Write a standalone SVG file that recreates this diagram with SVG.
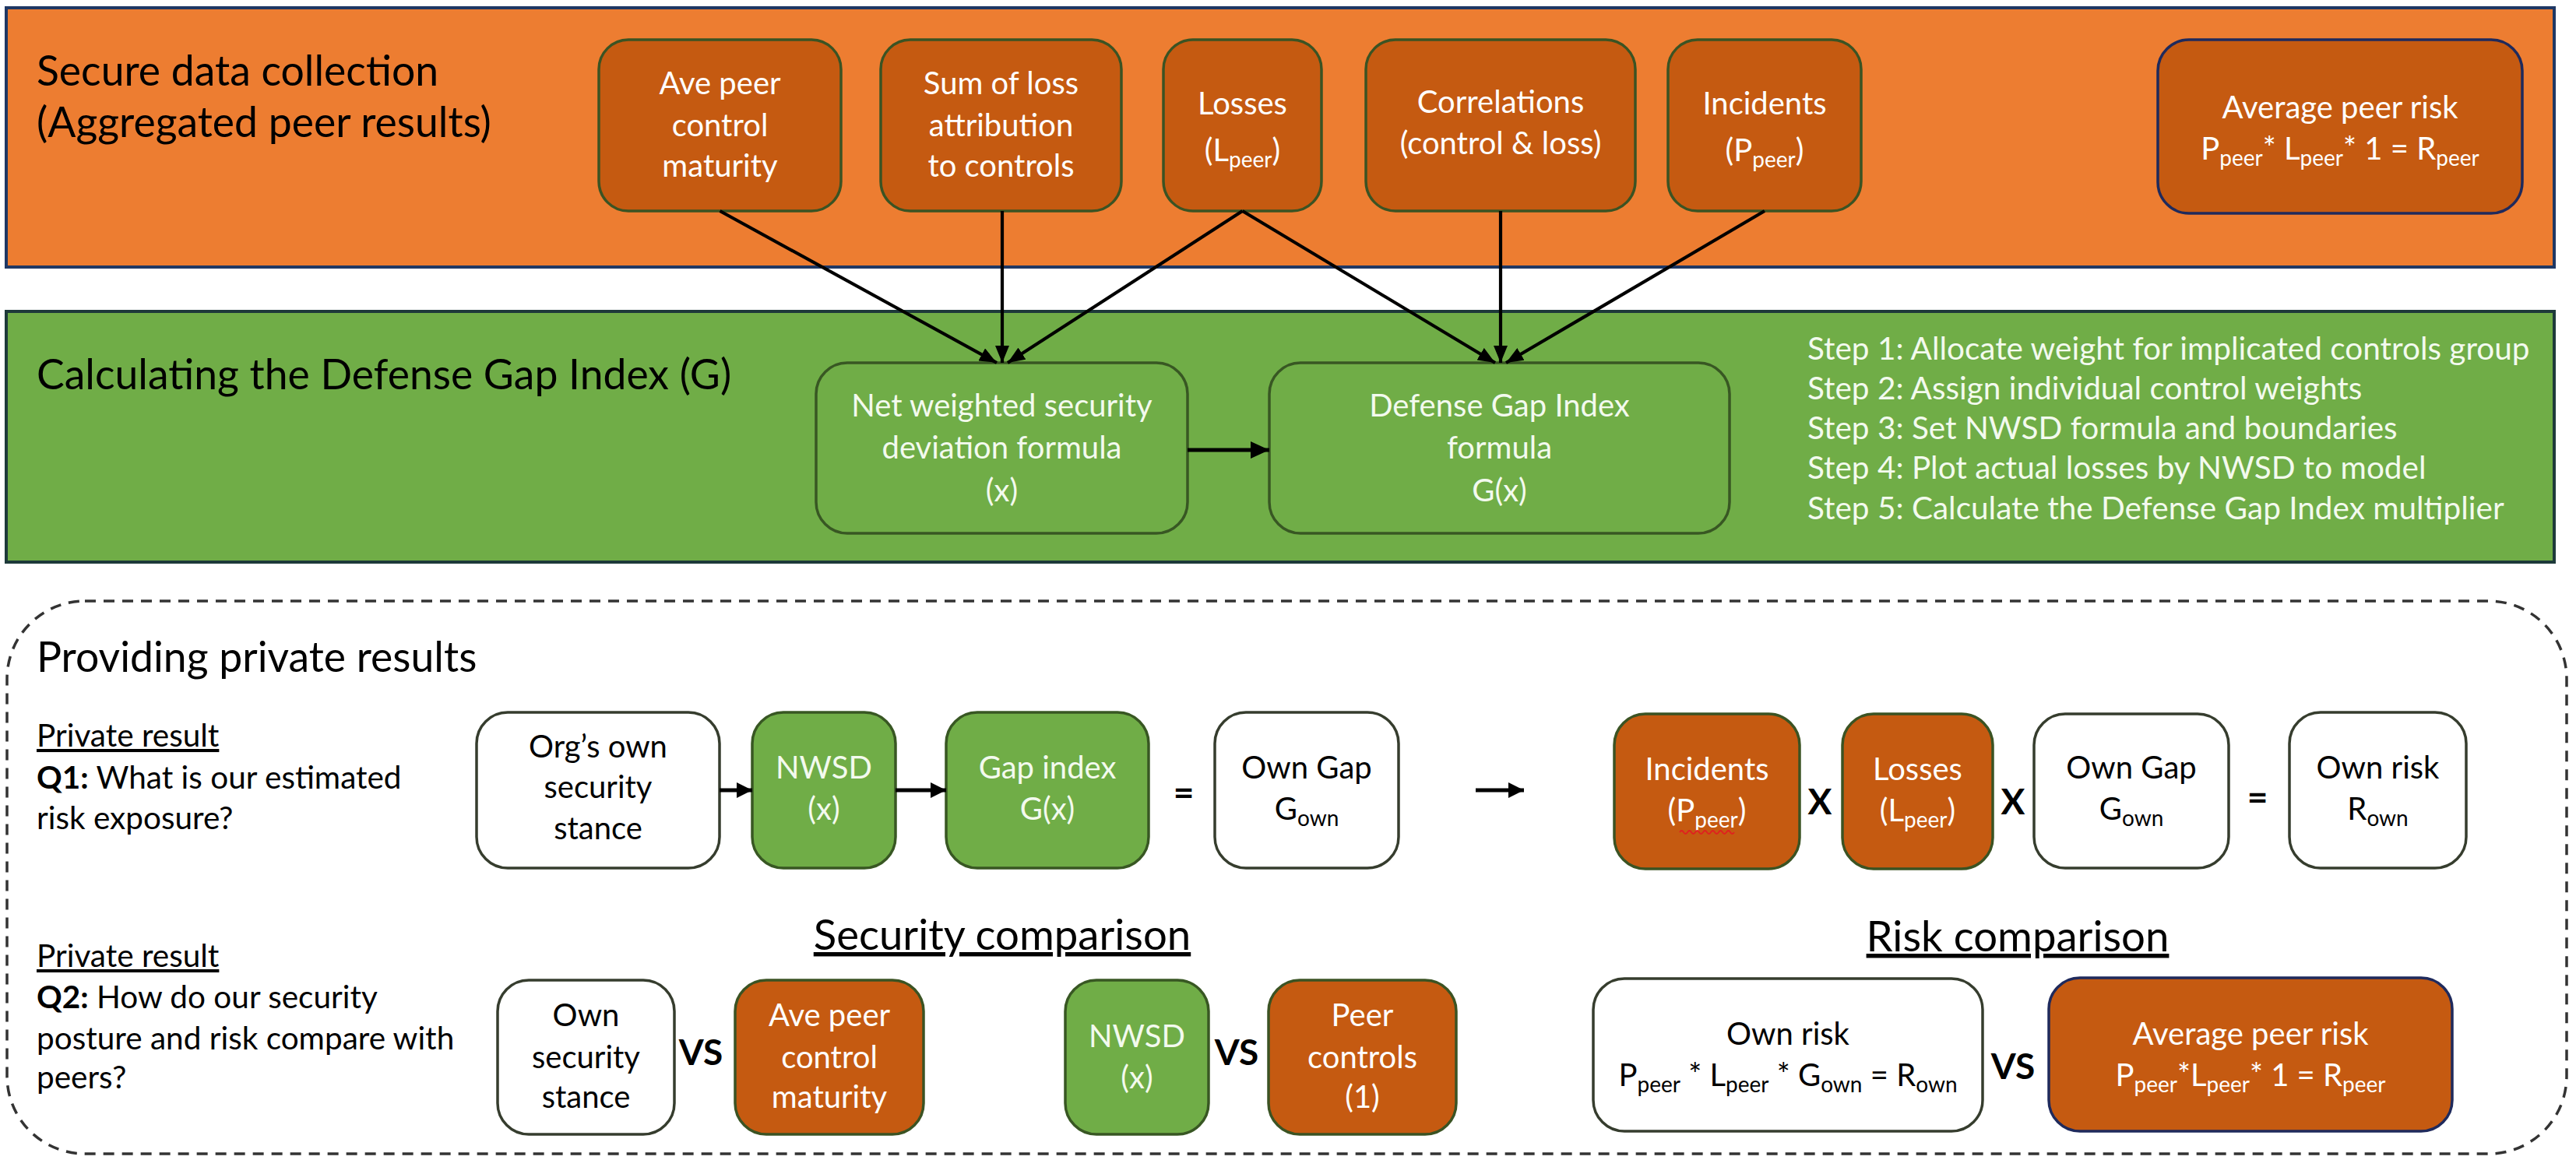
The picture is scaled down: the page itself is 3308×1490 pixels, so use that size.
<svg xmlns="http://www.w3.org/2000/svg" width="3308" height="1490" viewBox="0 0 3308 1490">
<defs>
<style>
text{font-family:Lato,'Liberation Sans',sans-serif}
.po{fill:#ED7D31;stroke:#1F3864;stroke-width:4}
.pg{fill:#70AD47;stroke:#1E3A3A;stroke-width:4}
.no{fill:#C55A11;stroke:#3B5323;stroke-width:3.5}
.nn{fill:#C55A11;stroke:#1F2A5C;stroke-width:3.5}
.ng{fill:#70AD47;stroke:#385723;stroke-width:3.5}
.nw{fill:#FFFFFF;stroke:#363D2E;stroke-width:3.5}
.tw{fill:#FFFFFF;font-size:40px;text-anchor:middle}
.tg{fill:#F3FAEE;font-size:40px;text-anchor:middle}
.tb{fill:#000000;font-size:40px;text-anchor:middle}
.title{fill:#000000;font-size:53.5px}
.lbl{fill:#000000;font-size:40.5px}
.step{fill:#F3FAEE;font-size:40.5px}
.op{fill:#000000;font-size:46px;font-weight:bold;text-anchor:middle}
.hd{fill:#000000;font-size:54.5px;text-anchor:middle;text-decoration:underline}
.sub{font-size:28px}
.c{fill:none;stroke:#000000;stroke-width:4.2}
.cb{fill:none;stroke:#000000;stroke-width:5}
</style>
<marker id="ah" markerWidth="22" markerHeight="18" refX="22" refY="9" orient="auto" markerUnits="userSpaceOnUse"><path d="M0,0 L22,9 L0,18 z" fill="#000"/></marker>
<marker id="ahb" markerWidth="24" markerHeight="22" refX="24" refY="11" orient="auto" markerUnits="userSpaceOnUse"><path d="M0,0 L24,11 L0,22 z" fill="#000"/></marker>
<marker id="ahs" markerWidth="20" markerHeight="20" refX="20" refY="10" orient="auto" markerUnits="userSpaceOnUse"><path d="M0,0 L20,10 L0,20 z" fill="#000"/></marker>
</defs>

<!-- Section panels -->
<g id="panel-collection">
<rect class="po" x="8" y="10" width="3272" height="333"/>
<text class="title" x="47" y="110">Secure data collection</text>
<text class="title" x="47" y="176">(Aggregated peer results)</text>
</g>
<g id="panel-gap">
<rect class="pg" x="8" y="400" width="3272" height="322"/>
<text class="title" x="47" y="500">Calculating the Defense Gap Index (G)</text>
<text class="step" x="2321" y="462">Step 1: Allocate weight for implicated controls group</text>
<text class="step" x="2321" y="513">Step 2: Assign individual control weights</text>
<text class="step" x="2321" y="564">Step 3: Set NWSD formula and boundaries</text>
<text class="step" x="2321" y="615">Step 4: Plot actual losses by NWSD to model</text>
<text class="step" x="2321" y="667">Step 5: Calculate the Defense Gap Index multiplier</text>
</g>
<g id="panel-private">
<rect x="9" y="772" width="3287" height="710" rx="100" ry="100" fill="none" stroke="#333333" stroke-width="3.5" stroke-dasharray="14 10"/>
<text class="title" x="47" y="863">Providing private results</text>
<text class="lbl" x="47" y="959" text-decoration="underline">Private result</text>
<text class="lbl" x="47" y="1013"><tspan font-weight="bold">Q1:</tspan> What is our estimated</text>
<text class="lbl" x="47" y="1065">risk exposure?</text>
<text class="lbl" x="47" y="1242" text-decoration="underline">Private result</text>
<text class="lbl" x="47" y="1295"><tspan font-weight="bold">Q2:</tspan> How do our security</text>
<text class="lbl" x="47" y="1348">posture and risk compare with</text>
<text class="lbl" x="47" y="1398">peers?</text>
<text class="hd" x="1287" y="1220">Security comparison</text>
<text class="hd" x="2591" y="1222">Risk comparison</text>
</g>

<!-- Top row nodes -->
<g id="n-ave-peer">
<rect class="no" x="769" y="51" width="311" height="220" rx="38"/>
<text class="tw" x="924.5" y="121">Ave peer</text>
<text class="tw" x="924.5" y="175">control</text>
<text class="tw" x="924.5" y="227">maturity</text>
</g>
<g id="n-sum-loss">
<rect class="no" x="1131" y="51" width="309" height="220" rx="38"/>
<text class="tw" x="1285.5" y="121">Sum of loss</text>
<text class="tw" x="1285.5" y="175">attribution</text>
<text class="tw" x="1285.5" y="227">to controls</text>
</g>
<g id="n-losses">
<rect class="no" x="1494" y="51" width="203" height="220" rx="38"/>
<text class="tw" x="1595.5" y="147">Losses</text>
<text class="tw" x="1595.5" y="207">(L<tspan class="sub" dy="8">peer</tspan><tspan dy="-8">)</tspan></text>
</g>
<g id="n-correlations">
<rect class="no" x="1754" y="51" width="346" height="220" rx="38"/>
<text class="tw" x="1927" y="145">Correlations</text>
<text class="tw" x="1927" y="198">(control &amp; loss)</text>
</g>
<g id="n-incidents">
<rect class="no" x="2142" y="51" width="248" height="220" rx="38"/>
<text class="tw" x="2266" y="147">Incidents</text>
<text class="tw" x="2266" y="207">(P<tspan class="sub" dy="8">peer</tspan><tspan dy="-8">)</tspan></text>
</g>
<g id="n-avg-peer-risk">
<rect class="nn" x="2771" y="51" width="468" height="223" rx="40"/>
<text class="tw" x="3005" y="152">Average peer risk</text>
<text class="tw" x="3005" y="205">P<tspan class="sub" dy="8">peer</tspan><tspan dy="-8">* L</tspan><tspan class="sub" dy="8">peer</tspan><tspan dy="-8">* 1 = R</tspan><tspan class="sub" dy="8">peer</tspan></text>
</g>

<!-- Gap index nodes -->
<g id="n-nwsd-formula">
<rect class="ng" x="1048" y="466" width="477" height="219" rx="40"/>
<text class="tg" x="1286.5" y="535">Net weighted security</text>
<text class="tg" x="1286.5" y="589">deviation formula</text>
<text class="tg" x="1286.5" y="644">(x)</text>
</g>
<g id="n-dgi-formula">
<rect class="ng" x="1630" y="466" width="591" height="219" rx="40"/>
<text class="tg" x="1925.5" y="535">Defense Gap Index</text>
<text class="tg" x="1925.5" y="589">formula</text>
<text class="tg" x="1925.5" y="644">G(x)</text>
</g>

<!-- Q1 row -->
<g id="q1-org-stance">
<rect class="nw" x="612" y="915" width="312" height="200" rx="40"/>
<text class="tb" x="768" y="973">Org’s own</text>
<text class="tb" x="768" y="1025">security</text>
<text class="tb" x="768" y="1078">stance</text>
</g>
<g id="q1-nwsd">
<rect class="ng" x="966" y="915" width="184" height="200" rx="40"/>
<text class="tg" x="1058" y="1000">NWSD</text>
<text class="tg" x="1058" y="1053">(x)</text>
</g>
<g id="q1-gap-index">
<rect class="ng" x="1215" y="915" width="260" height="200" rx="40"/>
<text class="tg" x="1345" y="1000">Gap index</text>
<text class="tg" x="1345" y="1053">G(x)</text>
</g>
<g id="q1-own-gap-a">
<rect class="nw" x="1560" y="915" width="236" height="200" rx="40"/>
<text class="tb" x="1678" y="1000">Own Gap</text>
<text class="tb" x="1678" y="1053">G<tspan class="sub" dy="8">own</tspan></text>
</g>
<g id="q1-incidents">
<rect class="no" x="2073" y="917" width="238" height="199" rx="40"/>
<text class="tw" x="2192" y="1002">Incidents</text>
<text class="tw" x="2192" y="1055">(P<tspan class="sub" dy="8">peer</tspan><tspan dy="-8">)</tspan></text>
<path d="M2157,1069 q2.5,-4 5,0 t5,0 t5,0 t5,0 t5,0 t5,0 t5,0 t5,0 t5,0 t5,0 t5,0 t5,0 t5,0 t5,0" fill="none" stroke="#E02020" stroke-width="1.8"/>
</g>
<g id="q1-losses">
<rect class="no" x="2366" y="917" width="193" height="199" rx="40"/>
<text class="tw" x="2462.5" y="1002">Losses</text>
<text class="tw" x="2462.5" y="1055">(L<tspan class="sub" dy="8">peer</tspan><tspan dy="-8">)</tspan></text>
</g>
<g id="q1-own-gap-b">
<rect class="nw" x="2612" y="917" width="250" height="198" rx="40"/>
<text class="tb" x="2737" y="1000">Own Gap</text>
<text class="tb" x="2737" y="1053">G<tspan class="sub" dy="8">own</tspan></text>
</g>
<g id="q1-own-risk">
<rect class="nw" x="2940" y="915" width="227" height="200" rx="40"/>
<text class="tb" x="3053.5" y="1000">Own risk</text>
<text class="tb" x="3053.5" y="1053">R<tspan class="sub" dy="8">own</tspan></text>
</g>
<g id="q1-operators">
<text class="op" x="1520" y="1034">=</text>
<text class="op" x="2337" y="1046">X</text>
<text class="op" x="2585" y="1046">X</text>
<text class="op" x="2899" y="1040">=</text>
</g>

<!-- Q2 row -->
<g id="q2-own-stance">
<rect class="nw" x="639" y="1259" width="227" height="198" rx="40"/>
<text class="tb" x="752.5" y="1318">Own</text>
<text class="tb" x="752.5" y="1372">security</text>
<text class="tb" x="752.5" y="1423">stance</text>
</g>
<g id="q2-ave-peer">
<rect class="no" x="944" y="1259" width="242" height="198" rx="40"/>
<text class="tw" x="1065" y="1318">Ave peer</text>
<text class="tw" x="1065" y="1372">control</text>
<text class="tw" x="1065" y="1423">maturity</text>
</g>
<g id="q2-nwsd">
<rect class="ng" x="1368" y="1259" width="184" height="198" rx="40"/>
<text class="tg" x="1460" y="1345">NWSD</text>
<text class="tg" x="1460" y="1398">(x)</text>
</g>
<g id="q2-peer-controls">
<rect class="no" x="1629" y="1259" width="241" height="198" rx="40"/>
<text class="tw" x="1749.5" y="1318">Peer</text>
<text class="tw" x="1749.5" y="1372">controls</text>
<text class="tw" x="1749.5" y="1423">(1)</text>
</g>
<g id="q2-own-risk">
<rect class="nw" x="2046" y="1257" width="500" height="196" rx="40"/>
<text class="tb" x="2296" y="1342">Own risk</text>
<text class="tb" x="2296" y="1395">P<tspan class="sub" dy="8">peer</tspan><tspan dy="-8"> * L</tspan><tspan class="sub" dy="8">peer</tspan><tspan dy="-8"> * G</tspan><tspan class="sub" dy="8">own</tspan><tspan dy="-8"> = R</tspan><tspan class="sub" dy="8">own</tspan></text>
</g>
<g id="q2-avg-peer-risk">
<rect class="nn" x="2631" y="1256" width="518" height="197" rx="40"/>
<text class="tw" x="2890" y="1342">Average peer risk</text>
<text class="tw" x="2890" y="1395">P<tspan class="sub" dy="8">peer</tspan><tspan dy="-8">*L</tspan><tspan class="sub" dy="8">peer</tspan><tspan dy="-8">* 1 = R</tspan><tspan class="sub" dy="8">peer</tspan></text>
</g>
<g id="q2-operators">
<text class="op" x="900" y="1368">VS</text>
<text class="op" x="1588" y="1368">VS</text>
<text class="op" x="2585" y="1386">VS</text>
</g>

<!-- Connectors -->
<g id="connectors">
<line class="c" x1="924.5" y1="271" x2="1280" y2="466" marker-end="url(#ah)"/>
<line class="c" x1="1287" y1="271" x2="1287" y2="466" marker-end="url(#ah)"/>
<line class="c" x1="1595.5" y1="271" x2="1294" y2="466" marker-end="url(#ah)"/>
<line class="c" x1="1595.5" y1="271" x2="1920" y2="466" marker-end="url(#ah)"/>
<line class="c" x1="1927" y1="271" x2="1927" y2="466" marker-end="url(#ah)"/>
<line class="c" x1="2266" y1="271" x2="1934" y2="466" marker-end="url(#ah)"/>
<line class="cb" x1="1525" y1="578" x2="1630" y2="578" marker-end="url(#ahb)"/>
<line class="cb" x1="924" y1="1015" x2="966" y2="1015" marker-end="url(#ahs)"/>
<line class="cb" x1="1150" y1="1015" x2="1215" y2="1015" marker-end="url(#ahs)"/>
<line class="cb" x1="1895" y1="1015" x2="1957" y2="1015" marker-end="url(#ahs)"/>
</g>
</svg>
